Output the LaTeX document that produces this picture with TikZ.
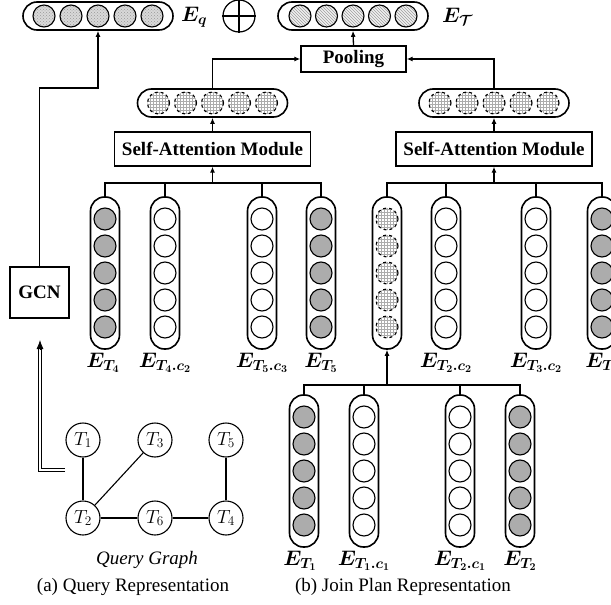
\RequirePackage{fix-cm}
\documentclass[tikz,border=0pt]{standalone}
\usepackage{fontspec}
\setmainfont{Liberation Serif}
\usepackage{amsmath,bm}
\usetikzlibrary{arrows.meta,patterns,calc}
\newcommand\myfs{\fontsize{19}{22}\selectfont}
\newcommand\mathfs{\fontsize{21}{24}\selectfont}
\tikzset{
 conn/.style={line width=1.3pt},
 arr/.style={conn,-{Latex[length=6pt,width=5pt]}},
 hpill/.style={draw, line width=1.6pt, rounded corners=14pt, minimum width=150pt, minimum height=28pt, inner sep=0pt},
 vpill/.style={draw, line width=1.6pt, rounded corners=14pt, minimum width=29pt, minimum height=152pt, inner sep=0pt},
 dot/.style={circle, draw, line width=1.1pt, minimum size=22pt, inner sep=0pt},
 graydot/.style={dot, fill=gray!65},
 whitedot/.style={dot, fill=white},
 qdot/.style={dot, preaction={fill=gray!30}, pattern=crosshatch dots, pattern color=gray!80},
 tdot/.style={dot, preaction={fill=gray!12}, pattern=north west lines, pattern color=gray!75},
 hdot/.style={dot, dashed, preaction={fill=white}, pattern=grid, pattern color=gray!65},
 box/.style={draw, line width=1.3pt, font=\myfs\bfseries, inner sep=0pt},
 lab/.style={font=\myfs, inner sep=1pt},
 elab/.style={font=\mathfs, inner sep=0pt},
 gnode/.style={circle, draw, line width=1.1pt, minimum size=34pt, inner sep=0pt, font=\myfs},
}
\begin{document}
\begin{tikzpicture}[x=1pt,y=-1pt]
\path[use as bounding box] (0,0) rectangle (611,605);
\clip (0,0) rectangle (611,605);

% top embeddings
\node[hpill] (eq) at (98,16) {};
\foreach \i/\dx in {1/-54,2/-27,3/0,4/27,5/54}
  \node[qdot] (eq\i) at ([xshift=\dx pt]eq.center) {};
\node[elab, anchor=west] (eqlab) at (181,17) {$\boldsymbol{E_{q}}$};

\node[circle, draw, line width=1.2pt, minimum size=32pt, inner sep=0pt] (plus) at (239,16) {};
\draw[line width=1.2pt] (plus.north) -- (plus.south);
\draw[line width=1.2pt] (plus.west) -- (plus.east);

\node[hpill] (et) at (353,16) {};
\foreach \i/\dx in {1/-53,2/-26.5,3/0,4/26.5,5/53}
  \node[tdot] (et\i) at ([xshift=\dx pt]et.center) {};
\node[elab, anchor=west] (etlab) at (442,17) {$\boldsymbol{E_{\mathcal{T}}}$};

% pooling
\node[box, minimum width=105pt, minimum height=26pt] (pool) at (353.5,59) {Pooling};
\draw[arr] (pool.north) -- (et.south);

% hidden pills
\node[hpill] (hl) at (212.5,103) {};
\foreach \i/\dx in {1/-54,2/-27,3/0,4/27,5/54}
  \node[hdot] (hl\i) at ([xshift=\dx pt]hl.center) {};
\node[hpill] (hr) at (494,103) {};
\foreach \i/\dx in {1/-54,2/-27,3/0,4/27,5/54}
  \node[hdot] (hr\i) at ([xshift=\dx pt]hr.center) {};
\draw[arr] (hl.north) |- (pool.west);
\draw[arr] (hr.north) |- (pool.east);

% self-attention boxes
\node[box, minimum width=196pt, minimum height=34pt] (sal) at (212.5,149) {Self-Attention Module};
\node[box, minimum width=196pt, minimum height=34pt] (sar) at (494,149) {Self-Attention Module};
\draw[arr] (sal.north) -- (hl.south);
\draw[arr] (sar.north) -- (hr.south);

% vertical pills
\foreach \name/\x/\y/\sty in {a1/105/273/graydot, a2/165/273/whitedot, a3/262/273/whitedot, a4/321/273/graydot,
  b1/387/273/hdot, b2/446/273/whitedot, b3/536/273/whitedot, b4/602/273/graydot,
  c1/304/471/graydot, c2/364/471/whitedot, c3/460/471/whitedot, c4/520/471/graydot} {
  \node[vpill] (\name) at (\x,\y) {};
  \foreach \dy in {-54,-27,0,27,54}
    \node[\sty] at ([yshift=\dy pt]\name.center) {};
}

% buses
\coordinate (lb) at (212.5,183);
\coordinate (rb) at (494,183);
\coordinate (bb) at (387,385);
\draw[conn] (a1.north) |- (lb) -| (a4.north);
\draw[conn] (a2.north) -- (a2.north |- lb);
\draw[conn] (a3.north) -- (a3.north |- lb);
\draw[arr] (lb) -- (sal.south);
\draw[conn] (b1.north) |- (rb) -| (b4.north);
\draw[conn] (b2.north) -- (b2.north |- rb);
\draw[conn] (b3.north) -- (b3.north |- rb);
\draw[arr] (rb) -- (sar.south);
\draw[conn] (c1.north) |- (bb) -| (c4.north);
\draw[conn] (c2.north) -- (c2.north |- bb);
\draw[conn] (c3.north) -- (c3.north |- bb);
\draw[arr] (bb) -- (b1.south);

% labels
\node[elab, anchor=north] at ([xshift=-2pt,yshift=-3pt]a1.south) {$\boldsymbol{E_{T_4}}$};
\node[elab, anchor=north] at ([yshift=-3pt]a2.south) {$\boldsymbol{E_{T_4.c_2}}$};
\node[elab, anchor=north] at ([yshift=-3pt]a3.south) {$\boldsymbol{E_{T_5.c_3}}$};
\node[elab, anchor=north] at ([yshift=-3pt]a4.south) {$\boldsymbol{E_{T_5}}$};
\node[elab, anchor=north] at ([yshift=-3pt]b2.south) {$\boldsymbol{E_{T_2.c_2}}$};
\node[elab, anchor=north] at ([yshift=-3pt]b3.south) {$\boldsymbol{E_{T_3.c_2}}$};
\node[elab, anchor=north] at ([yshift=-3pt]b4.south) {$\boldsymbol{E_{T_3}}$};
\node[elab, anchor=north] at ([xshift=-4pt,yshift=-3pt]c1.south) {$\boldsymbol{E_{T_1}}$};
\node[elab, anchor=north] at ([yshift=-3pt]c2.south) {$\boldsymbol{E_{T_1.c_1}}$};
\node[elab, anchor=north] at ([yshift=-3pt]c3.south) {$\boldsymbol{E_{T_2.c_1}}$};
\node[elab, anchor=north] at ([yshift=-3pt]c4.south) {$\boldsymbol{E_{T_2}}$};

% GCN
\node[box, minimum width=59pt, minimum height=51pt] (gcn) at (39.5,292.5) {GCN};
\coordinate (g1) at (39.5,88);
\draw[arr] (gcn.north) -- (gcn.north |- g1) -| (eq.south);

% query graph
\node[gnode] (t1) at (83,440) {$T_1$};
\node[gnode] (t3) at (155,440) {$T_3$};
\node[gnode] (t5) at (226,440) {$T_5$};
\node[gnode] (t2) at (83,518) {$T_2$};
\node[gnode] (t6) at (155,518) {$T_6$};
\node[gnode] (t4) at (226,518) {$T_4$};
\draw[line width=1.1pt] (t1) -- (t2);
\draw[line width=1.1pt] (t3) -- (t2);
\draw[line width=1.1pt] (t2) -- (t6);
\draw[line width=1.1pt] (t6) -- (t4);
\draw[line width=1.1pt] (t4) -- (t5);

% double arrow to GCN
\coordinate (qs) at (65,470);
\coordinate (qe) at (40,340);
\draw[double, double distance=2.4pt, line width=0.8pt] (qs) -| ([yshift=-8pt]qe);
\draw[line width=0.8pt, -{Latex[length=9pt,width=7pt]}] ([yshift=-9pt]qe) -- (qe);

% captions
\node[lab] (qg) at (147,560) {\itshape Query Graph};
\node[lab] (capa) at (133,587) {(a) Query Representation};
\node[lab] (capb) at (403,587) {(b) Join Plan Representation};
\end{tikzpicture}
\end{document}
